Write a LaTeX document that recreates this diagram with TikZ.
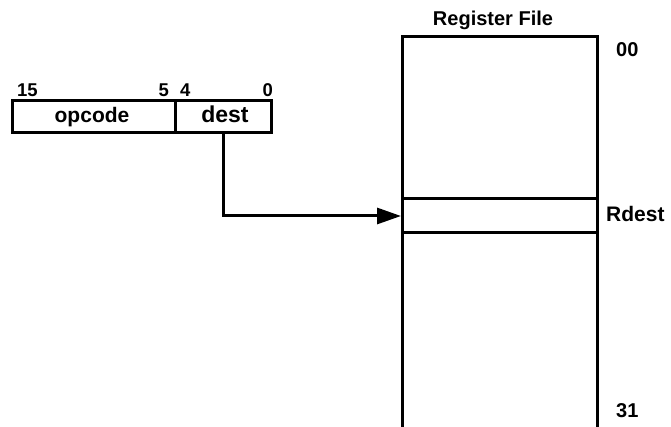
\documentclass[tikz,border=0pt]{standalone}
\usepackage{fontspec}
\setmainfont{Liberation Sans}
\usetikzlibrary{arrows.meta}
\begin{document}
\begin{tikzpicture}[x=1pt,y=-1pt,
  field/.style={draw,line width=3pt,inner sep=0pt,font=\fontsize{21}{21}\selectfont\bfseries},
  reg/.style={draw,line width=3pt,inner sep=0pt},
  lbl/.style={inner sep=0pt,font=\fontsize{20}{20}\selectfont\bfseries},
  bit/.style={inner sep=0pt,font=\fontsize{18.5}{18}\selectfont\bfseries},
  conn/.style={line width=3pt,-{Triangle[length=24pt,width=16pt]}}]
\useasboundingbox (0,0) rectangle (671,427);
\fill[white] (0,0) rectangle (671,427);
% instruction format
\node[field,minimum width=163pt,minimum height=32pt] (opcode) at (93.5,117) {};
\node[field,minimum width=96pt,minimum height=32pt] (dest) at (223,117) {};
\node[inner sep=0pt,anchor=base,font=\fontsize{21}{21}\selectfont\bfseries] (topc) at (92,123) {opcode};
\node[inner sep=0pt,anchor=base,font=\fontsize{23}{23}\selectfont\bfseries] (tdest) at (225,123) {dest};
\node[bit,anchor=base west] (b15) at (17,97) {15};
\node[bit,anchor=base east] (b5) at (169,97) {5};
\node[bit,anchor=base west] (b4) at (180,97) {4};
\node[bit,anchor=base east] (b0) at (273,97) {0};
% register file
\node[reg,minimum width=195pt,minimum height=162pt] (rtop) at (500,118) {};
\node[reg,minimum width=195pt,minimum height=34pt] (rdest) at (500,216) {};
\node[reg,minimum width=195pt,minimum height=230pt] (rbot) at (500,348) {};
\node[lbl,anchor=base] (title) at (493,26) {Register File};
\node[lbl,anchor=base west] (l00) at (616,57) {00};
\node[lbl,anchor=base west,font=\fontsize{21}{21}\selectfont\bfseries] (lrd) at (606,222) {Rdest};
\node[lbl,anchor=base west] (l31) at (616,417) {31};
% connector
\draw[conn] (dest.south) |- (rdest.west);
\end{tikzpicture}
\end{document}
